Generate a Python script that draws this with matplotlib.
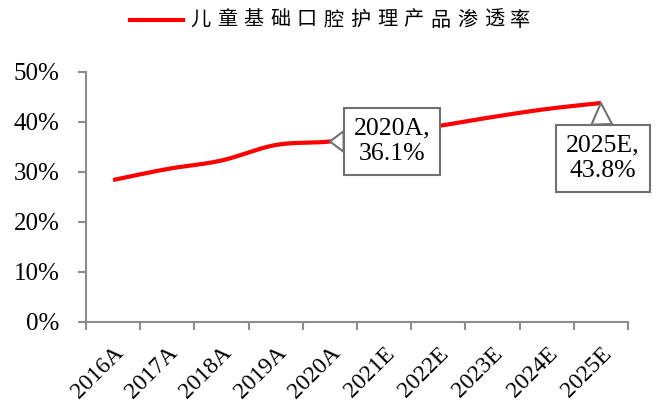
import numpy as np
import matplotlib.pyplot as plt
from matplotlib.lines import Line2D

years = ['2016A', '2017A', '2018A', '2019A', '2020A',
         '2021E', '2022E', '2023E', '2024E', '2025E']
penetration = [28.4, 30.6, 32.3, 35.4, 36.1, 37.6, 39.2, 41.0, 42.6, 43.8]
series_name = '儿童基础口腔护理产品渗透率'
callouts = [(4, '2020A,\n36.1%'), (9, '2025E,\n43.8%')]

plt.rcParams['font.family'] = ['Liberation Serif', 'Noto Sans CJK SC']


def smooth(x, y, n=30):
    # Catmull-Rom style smoothing, like Excel's "smoothed line"
    x = np.asarray(x, float)
    y = np.asarray(y, float)
    px = np.concatenate([[2 * x[0] - x[1]], x, [2 * x[-1] - x[-2]]])
    py = np.concatenate([[2 * y[0] - y[1]], y, [2 * y[-1] - y[-2]]])
    xs, ys = [], []
    t = np.linspace(0, 1, n)
    for i in range(1, len(px) - 2):
        p0, p1, p2, p3 = px[i - 1], px[i], px[i + 1], px[i + 2]
        q0, q1, q2, q3 = py[i - 1], py[i], py[i + 1], py[i + 2]
        c1x, c1y = p1 + (p2 - p0) / 6, q1 + (q2 - q0) / 6
        c2x, c2y = p2 - (p3 - p1) / 6, q2 - (q3 - q1) / 6
        b = [(1 - t) ** 3, 3 * (1 - t) ** 2 * t, 3 * (1 - t) * t ** 2, t ** 3]
        xs.append(b[0] * p1 + b[1] * c1x + b[2] * c2x + b[3] * p2)
        ys.append(b[0] * q1 + b[1] * c1y + b[2] * c2y + b[3] * q2)
    return np.concatenate(xs), np.concatenate(ys)


fig = plt.figure(figsize=(6.57, 4.03), dpi=100)
ax = fig.add_axes([86 / 657, 1 - 322 / 403, 542 / 657, 250 / 403])

xpos = np.arange(len(years))
sx, sy = smooth(xpos, penetration)
ax.plot(sx, sy, color='#FF0000', lw=3, solid_capstyle='butt')

ax.set_xlim(-0.5, len(years) - 0.5)
ax.set_ylim(0, 50)
ax.set_yticks(np.arange(0, 51, 10))
ax.set_yticklabels([f'{v}%' for v in range(0, 51, 10)], fontsize=18)
ax.set_xticks(np.arange(-0.5, len(years)), labels=[''] * (len(years) + 1))
ax.set_xticks(xpos, minor=True)
ax.set_xticklabels(years, minor=True, rotation=45, ha='right',
                   rotation_mode='anchor', fontsize=17)
ax.tick_params(axis='x', which='minor', length=0, pad=15)
ax.tick_params(axis='y', which='major', pad=13)
ax.tick_params(axis='both', which='major', color='#8c8c8c', width=1.5, length=6)

for s in ['top', 'right']:
    ax.spines[s].set_visible(False)
for s in ['left', 'bottom']:
    ax.spines[s].set_color('#8c8c8c')
    ax.spines[s].set_linewidth(1.5)

offsets = {4: (45, 0), 9: (1.5, -40)}
for i, txt in callouts:
    ax.annotate(txt, xy=(xpos[i], penetration[i]), xytext=offsets[i],
                textcoords='offset points', fontsize=18.5, ha='center', va='center',
                linespacing=1.2,
                bbox=dict(boxstyle='square,pad=0.38', fc='white', ec='#707070', lw=1.5),
                arrowprops=dict(arrowstyle='wedge,tail_width=0.8', fc='white',
                                ec='#707070', lw=1.5, shrinkA=0, shrinkB=0))

# legend drawn by hand to get the wide character spacing
fig.add_artist(Line2D([130 / 657, 183 / 657], [1 - 20 / 403] * 2,
                      color='#FF0000', lw=3, transform=fig.transFigure))
for k, ch in enumerate(series_name):
    fig.text((190 + 26.7 * k) / 657, 1 - 20 / 403, ch, fontsize=14.5,
             family='Noto Sans CJK SC', ha='left', va='center')

fig.savefig('out.png', dpi=100)
